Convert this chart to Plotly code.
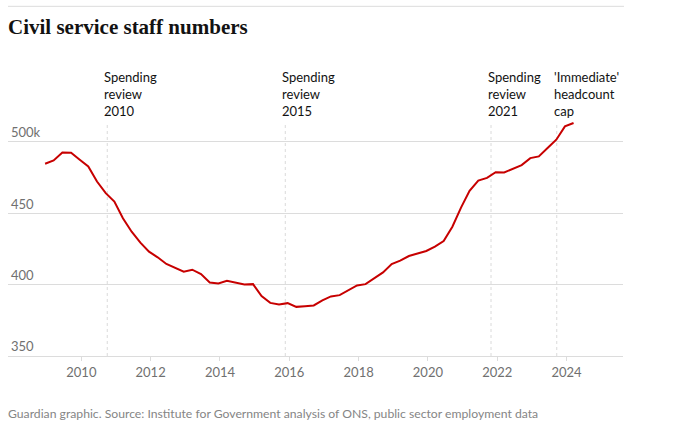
import pandas as pd
import plotly.graph_objects as go

# Quarterly civil service headcount (thousands), Dec 2008 -> Mar 2024
values = [484.6, 486.9, 492.5, 492.3, 487.4, 482.7, 472.1, 464.0, 458.1,
          446.4, 437.0, 429.3, 423.0, 419.1, 414.4, 411.5, 409.0, 410.4,
          407.3, 401.5, 400.8, 402.6, 401.5, 400.1, 400.3, 391.9, 387.2,
          386.1, 387.0, 384.4, 384.9, 385.4, 388.9, 391.7, 392.6, 396.1,
          399.4, 400.3, 404.3, 408.5, 414.4, 416.7, 420.0, 421.6, 423.5,
          426.5, 430.5, 440.5, 453.9, 465.6, 472.8, 474.7, 478.7, 478.5,
          480.8, 483.6, 488.5, 489.7, 495.6, 501.4, 510.7, 513.1]
first_quarter = "2008-12-01"
dates = pd.date_range(first_quarter, periods=len(values), freq="3MS") + pd.Timedelta(days=14)

event_dates = ["2010-10-01", "2015-11-20", "2021-10-27", "2023-09-20"]
event_labels = ["Spending<br>review<br>2010", "Spending<br>review<br>2015",
                "Spending<br>review<br>2021", "'Immediate'<br>headcount<br>cap"]

y_ticks = [350, 400, 450, 500]
y_tick_labels = ["350", "400", "450", "500k"]

FONT = "Lato"
line_top = 512.6

fig = go.Figure()
fig.add_trace(go.Scatter(x=dates, y=values, mode="lines",
                         line=dict(color="#c70000", width=2),
                         hoverinfo="skip", showlegend=False))

shapes = []
annotations = []
for d, lab in zip(event_dates, event_labels):
    shapes.append(dict(type="line", xref="x", yref="y", x0=d, x1=d, y0=350, y1=line_top,
                       line=dict(color="#dadada", width=1, dash="dot"), layer="below"))
    annotations.append(dict(x=d, y=line_top, xref="x", yref="y", text=lab, showarrow=False,
                            xanchor="left", yanchor="bottom", align="left", xshift=-5, yshift=3,
                            font=dict(family=FONT, size=13, color="#121212")))

# top rule
shapes.append(dict(type="line", xref="paper", yref="paper", x0=0, x1=1.0016,
                   y0=1.3987, y1=1.3987, line=dict(color="#dcdcdc", width=1)))

annotations.append(dict(x=0, y=-0.229, xref="paper", yref="paper", xanchor="left", yanchor="middle",
                        xshift=-2,
                        text="Guardian graphic. Source: Institute for Government analysis of ONS, public sector employment data",
                        showarrow=False, font=dict(family=FONT, size=12.2, color="#858585")))

fig.update_layout(
    width=680, height=427,
    margin=dict(l=8, r=57, t=106, b=71),
    paper_bgcolor="white", plot_bgcolor="white",
    title=dict(text="<b>Civil service staff numbers</b>", x=0, xref="container", xanchor="left",
               y=1 - 27/427, yref="container", yanchor="middle", pad=dict(l=8),
               font=dict(family="Liberation Serif", size=21, color="#121212")),
    shapes=shapes, annotations=annotations,
    xaxis=dict(type="date", range=["2007-11-20", "2025-08-18"], tick0="2010-01-01", dtick="M24",
               tickformat="%Y", showgrid=False, zeroline=False, showline=True,
               linecolor="#dcdcdc", linewidth=1, ticks="outside", ticklen=4, tickcolor="#dcdcdc",
               tickfont=dict(family=FONT, size=13, color="#707070")),
    yaxis=dict(range=[350, 525], tickvals=y_ticks, ticktext=y_tick_labels,
               ticklabelposition="inside top", showgrid=True, gridcolor="#dcdcdc", gridwidth=1,
               zeroline=False, showline=False, ticks="",
               tickfont=dict(family=FONT, size=13, color="#707070")),
)

fig.write_html("out.html")
